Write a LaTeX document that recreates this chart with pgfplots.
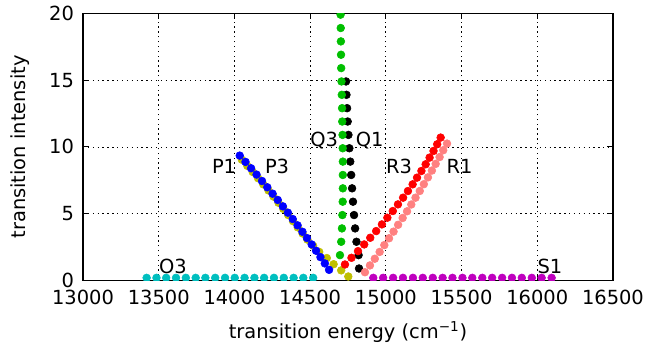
\documentclass[border=0pt]{standalone}
\usepackage{fontspec}
\setmainfont{DejaVu Sans}
\usepackage{pgfplots}
\pgfplotsset{compat=1.18}
\definecolor{mblue}{rgb}{0,0,1}
\definecolor{mgreen}{rgb}{0,0.75,0}
\definecolor{mred}{rgb}{1,0,0}
\definecolor{mpink}{rgb}{1,0.5,0.5}
\definecolor{mcyan}{rgb}{0,0.75,0.75}
\definecolor{mmag}{rgb}{0.75,0,0.75}
\definecolor{myel}{rgb}{0.75,0.75,0}
\newcommand{\lf}{\fontsize{14}{16}\selectfont}
\begin{document}
\begin{tikzpicture}
\begin{axis}[
  scale only axis, width=381.6pt, height=192.4pt,
  xmin=13000, xmax=16500, ymin=0, ymax=20,
  xtick={13000,13500,...,16500}, ytick={0,5,...,20},
  scaled x ticks=false, scaled y ticks=false,
  /pgf/number format/1000 sep={},
  /pgf/number format/fixed,
  /pgf/number format/assume math mode=true,
  tick label style={font=\lf},
  xlabel={transition energy (cm\textsuperscript{−1})},
  ylabel={transition intensity},
  every axis x label/.style={at={(axis description cs:0.5,-0.193)}, anchor=center, font=\lf},
  every axis y label/.style={at={(axis description cs:-0.119,0.5)}, anchor=center, rotate=90, font=\lf},
  grid=major,
  major grid style={black, line width=0.5pt, dash pattern=on 1pt off 2.5pt},
  axis line style={line width=1pt},
  major tick length=4pt,
  tick style={black, line width=0.8pt},
  tick align=inside,
  xticklabel style={yshift=-3pt},
  yticklabel style={xshift=-3pt},
  clip marker paths=true,
]
% O3 (cyan)
\addplot[only marks, mark=*, mark size=2.8pt, color=mcyan] coordinates {
(13420,0.2)(13485,0.2)(13549,0.2)(13614,0.2)(13679,0.2)(13744,0.2)(13808,0.2)(13873,0.2)(13938,0.2)
(14002,0.2)(14067,0.2)(14132,0.2)(14196,0.2)(14261,0.2)(14326,0.2)(14391,0.2)(14455,0.2)(14520,0.2)};
% S1 (magenta)
\addplot[only marks, mark=*, mark size=2.8pt, color=mmag] coordinates {
(14917,0.2)(14982,0.2)(15048,0.2)(15113,0.2)(15179,0.2)(15244,0.2)(15310,0.2)(15375,0.2)(15440,0.2)(15506,0.2)
(15571,0.2)(15637,0.2)(15702,0.2)(15768,0.2)(15833,0.2)(15898,0.2)(15964,0.2)(16029,0.2)(16095,0.2)};
% P3 (yellow)
\addplot[only marks, mark=*, mark size=2.8pt, color=myel] coordinates {
(14752,0.30)(14705,0.76)(14655,1.22)(14610,1.68)(14560,2.14)(14520,2.60)(14482,3.06)(14450,3.52)(14418,3.98)(14387,4.44)
(14355,4.90)(14323,5.36)(14291,5.82)(14258,6.28)(14225,6.74)(14190,7.20)(14156,7.66)(14121,8.12)(14085,8.58)(14049,9.04)};
% P1 (blue)
\addplot[only marks, mark=*, mark size=2.8pt, color=mblue] coordinates {
(14625,0.80)(14597,1.28)(14568,1.75)(14539,2.23)(14510,2.70)(14479,3.18)(14449,3.65)(14417,4.13)(14385,4.60)(14353,5.08)
(14320,5.55)(14286,6.03)(14252,6.50)(14217,6.98)(14182,7.45)(14146,7.93)(14110,8.40)(14073,8.88)(14035,9.35)};
% Q1 (black)
\addplot[only marks, mark=*, mark size=2.8pt, color=black] coordinates {
(14823,0.9)(14820,1.9)(14806,2.9)(14797,3.9)(14790,4.9)(14783,5.9)(14777,6.9)(14771,7.9)(14765,8.9)(14759,9.9)
(14753,10.9)(14748,11.9)(14744,12.9)(14740,13.9)(14737,14.9)};
% Q3 (green)
\addplot[only marks, mark=*, mark size=2.8pt, color=mgreen] coordinates {
(14697,1.9)(14705,2.9)(14710,3.9)(14713,4.9)(14715,5.9)(14716,6.9)(14716,7.9)(14716,8.9)(14715,9.9)(14714,10.9)
(14712,11.9)(14711,12.9)(14709,13.9)(14707,14.9)(14705,15.9)(14704,16.9)(14703,17.9)(14702,18.9)(14701,19.9)(14700,20.9)};
% R1 (pink)
\addplot[only marks, mark=*, mark size=2.8pt, color=mpink] coordinates {
(14862,0.62)(14895,1.13)(14927,1.63)(14959,2.14)(14990,2.65)(15021,3.16)(15051,3.66)(15081,4.17)(15111,4.68)(15140,5.18)
(15168,5.69)(15196,6.20)(15224,6.70)(15251,7.21)(15278,7.72)(15304,8.23)(15329,8.73)(15355,9.24)(15379,9.75)(15404,10.25)};
% R3 (red)
\addplot[only marks, mark=*, mark size=2.8pt, color=mred] coordinates {
(14730,1.2)(14773,1.7)(14816,2.2)(14857,2.7)(14897,3.2)(14936,3.7)(14974,4.2)(15010,4.7)(15046,5.2)(15080,5.7)
(15114,6.2)(15146,6.7)(15177,7.2)(15206,7.7)(15235,8.2)(15263,8.7)(15289,9.2)(15315,9.7)(15339,10.2)(15362,10.7)};
\node[anchor=base west, inner sep=0pt, font=\lf] at (axis cs:13850,8) {P1};
\node[anchor=base west, inner sep=0pt, font=\lf] at (axis cs:14200,8) {P3};
\node[anchor=base west, inner sep=0pt, font=\lf] at (axis cs:14500,10) {Q3};
\node[anchor=base west, inner sep=0pt, font=\lf] at (axis cs:14800,10) {Q1};
\node[anchor=base west, inner sep=0pt, font=\lf] at (axis cs:15000,8) {R3};
\node[anchor=base west, inner sep=0pt, font=\lf] at (axis cs:15400,8) {R1};
\node[anchor=base west, inner sep=0pt, font=\lf] at (axis cs:13500,0.5) {O3};
\node[anchor=base west, inner sep=0pt, font=\lf] at (axis cs:16000,0.5) {S1};
\end{axis}
\pgfresetboundingbox
\path ([shift={(-59.8pt,-52.2pt)}]current axis.south west) rectangle ([shift={(23.8pt,9.6pt)}]current axis.north east);
\end{tikzpicture}
\end{document}
